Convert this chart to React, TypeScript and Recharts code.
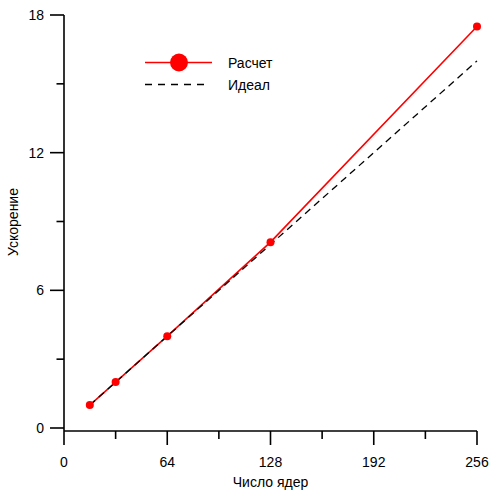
import React from 'react';
import { LineChart, Line, XAxis, YAxis, Legend } from 'recharts';

// Speedup versus number of cores
const cores = [16, 32, 64, 128, 256];
const computed = [1, 2, 4, 8.1, 17.5];
const ideal = [1, 2, 4, 8, 16];

const xTicks = [0, 32, 64, 96, 128, 160, 192, 224, 256];
const yTicks = [0, 3, 6, 9, 12, 15, 18];
const xMajorStep = 64;
const yMajorStep = 6;

const seriesComputed = 'Расчет';
const seriesIdeal = 'Идеал';
const legendOrder = [seriesComputed, seriesIdeal];
const xTitle = 'Число ядер';
const yTitle = 'Ускорение';

const FONT = '"Liberation Sans", Arial, sans-serif';

const table = cores.map((c, i) => ({ cores: c, computed: computed[i], ideal: ideal[i] }));

const XTick = (props: any) => {
  const { x, y, payload } = props;
  const major = payload.value % xMajorStep === 0;
  return (
    <g>
      <line x1={x} x2={x} y1={y} y2={y + (major ? 14 : 8)} stroke="#000" strokeWidth={1.6} />
      {major && (
        <text x={x} y={y + 36} textAnchor="middle" fontSize={14} fontFamily={FONT} fill="#000">
          {payload.value}
        </text>
      )}
    </g>
  );
};

const YTick = (props: any) => {
  const { x, y, payload } = props;
  const major = payload.value % yMajorStep === 0;
  return (
    <g>
      <line x1={x - (major ? 14 : 7.5)} x2={x} y1={y} y2={y} stroke="#000" strokeWidth={1.6} />
      {major && (
        <text x={x - 20} y={y + 5} textAnchor="end" fontSize={14} fontFamily={FONT} fill="#000">
          {payload.value}
        </text>
      )}
    </g>
  );
};

const LegendBox = (props: any) => {
  const items = [...(props.payload || [])].sort(
    (a: any, b: any) => legendOrder.indexOf(a.value) - legendOrder.indexOf(b.value)
  );
  return (
    <svg width={170} height={50} style={{ display: 'block', overflow: 'visible' }}>
      {items.map((item: any, i: number) => {
        const cy = 14.5 + i * 22;
        const dashed = item.payload && item.payload.strokeDasharray;
        return (
          <g key={i}>
            <line
              x1={5}
              x2={dashed ? 70 : 72}
              y1={cy}
              y2={cy}
              stroke={item.color}
              strokeWidth={dashed ? 1.3 : 1.6}
              strokeDasharray={dashed ? '7 6' : undefined}
            />
            {!dashed && <circle cx={39} cy={cy} r={9} fill={item.color} />}
            <text x={88} y={cy + 5} fontSize={14} fontFamily={FONT} fill="#000">
              {item.value}
            </text>
          </g>
        );
      })}
    </svg>
  );
};

export default function App() {
  return (
    <div style={{ position: 'absolute', left: 0, top: 0, width: 491, height: 490, background: '#fff' }}>
      <LineChart
        width={491}
        height={490}
        data={table}
        margin={{ top: 15, right: 14, bottom: 0, left: 0 }}
      >
        <XAxis
          type="number"
          dataKey="cores"
          domain={[0, 256]}
          ticks={xTicks}
          interval={0}
          height={59}
          tickSize={0}
          tickMargin={0}
          tickLine={false}
          tick={<XTick />}
          axisLine={{ stroke: '#000', strokeWidth: 1.6 }}
          label={{ value: xTitle, position: 'insideBottom', offset: 3, fontSize: 14, fontFamily: FONT, fill: '#000' }}
        />
        <YAxis
          type="number"
          domain={[0, 18]}
          ticks={yTicks}
          interval={0}
          width={64}
          padding={{ top: 0, bottom: 3 }}
          tickSize={0}
          tickMargin={0}
          tickLine={false}
          tick={<YTick />}
          axisLine={{ stroke: '#000', strokeWidth: 1.6 }}
        />
        <Legend
          layout="vertical"
          align="center"
          verticalAlign="middle"
          wrapperStyle={{ left: 140, top: 48, width: 170, height: 50 }}
          content={<LegendBox />}
        />
        <Line
          name={seriesComputed}
          dataKey="computed"
          stroke="#ff0000"
          strokeWidth={1.6}
          dot={{ r: 4, fill: '#ff0000', stroke: '#ff0000', strokeWidth: 0 }}
          activeDot={false}
          isAnimationActive={false}
        />
        <Line
          name={seriesIdeal}
          dataKey="ideal"
          stroke="#000"
          strokeWidth={1.3}
          strokeDasharray="7 5"
          dot={false}
          activeDot={false}
          isAnimationActive={false}
        />
      </LineChart>
      <svg
        width={30}
        height={490}
        style={{ position: 'absolute', left: 0, top: 0, pointerEvents: 'none' }}
      >
        <text
          transform="translate(18, 222) rotate(-90)"
          textAnchor="middle"
          fontSize={14}
          fontFamily={FONT}
          fill="#000"
        >
          {yTitle}
        </text>
      </svg>
    </div>
  );
}
